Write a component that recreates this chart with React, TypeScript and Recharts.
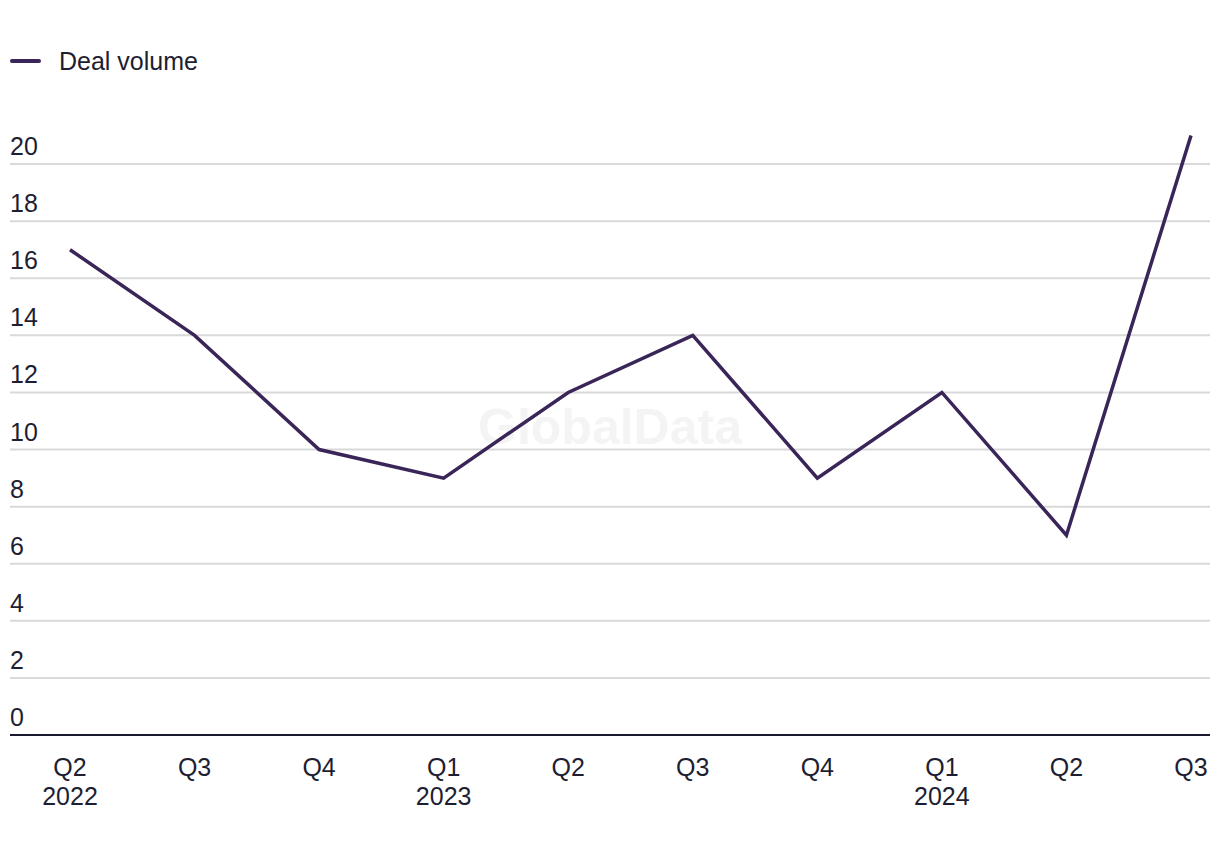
import React from "react";
import { LineChart, Line, XAxis, YAxis, CartesianGrid } from "recharts";

const quarters = ["Q2", "Q3", "Q4", "Q1", "Q2", "Q3", "Q4", "Q1", "Q2", "Q3"];
const years = ["2022", "", "", "2023", "", "", "", "2024", "", ""];
const dealVolume = [17, 14, 10, 9, 12, 14, 9, 12, 7, 21];
const yTicks = [0, 2, 4, 6, 8, 10, 12, 14, 16, 18, 20];

const data = quarters.map((q, i) => ({ key: `${q}-${i}`, quarter: q, year: years[i], value: dealVolume[i] }));

const FONT = "'Liberation Sans', Arial, sans-serif";
const TEXT = "#1e1e32";
const LINE = "#3a2558";
const FS = 25;

const XTick = (props: any) => {
  const { x, y, payload } = props;
  const idx = payload.index;
  return (
    <g>
      <text x={x} y={y + 33} textAnchor="middle" fontSize={FS} fill={TEXT} fontFamily={FONT}>
        {quarters[idx]}
      </text>
      {years[idx] ? (
        <text x={x} y={y + 62} textAnchor="middle" fontSize={FS} fill={TEXT} fontFamily={FONT}>
          {years[idx]}
        </text>
      ) : null}
    </g>
  );
};

const YTick = (props: any) => {
  const { y, payload } = props;
  return (
    <text x={10} y={y - 9} textAnchor="start" fontSize={FS} fill={TEXT} fontFamily={FONT}>
      {payload.value}
    </text>
  );
};

export default function App() {
  return (
    <div style={{ position: "relative", width: 1220, height: 856, background: "#fff" }}>
      <style>{"body{margin:0}"}</style>
      <div
        style={{
          position: "absolute",
          left: 0,
          width: 1220,
          top: 398,
          textAlign: "center",
          fontFamily: FONT,
          fontWeight: 700,
          fontSize: 50,
          color: "#f4f4f4",
        }}
      >
        GlobalData
      </div>
      <div
        style={{
          position: "absolute",
          left: 10,
          top: 46,
          display: "flex",
          alignItems: "center",
          fontFamily: FONT,
          fontSize: FS,
          color: TEXT,
          height: 30,
        }}
      >
        <div style={{ width: 31, height: 4, background: LINE, borderRadius: 2, marginRight: 18 }} />
        <span>Deal volume</span>
      </div>
      <div style={{ position: "absolute", left: 0, top: 0 }}>
        <LineChart width={1220} height={856} data={data} margin={{ top: 107, right: 10, left: 9, bottom: 0 }}>
          <CartesianGrid vertical={false} horizontalValues={yTicks} stroke="#d9d9d9" strokeWidth={2} />
          <XAxis
            dataKey="key"
            height={121}
            padding={{ left: 60, right: 19 }}
            axisLine={{ stroke: "#1a1a2e", strokeWidth: 2 }}
            tickLine={false}
            tick={<XTick />}
            interval={0}
          />
          <YAxis
            width={1}
            type="number"
            domain={[0, 22]}
            ticks={yTicks}
            interval={0}
            axisLine={false}
            tickLine={false}
            tick={<YTick />}
          />
          <Line
            type="linear"
            dataKey="value"
            stroke={LINE}
            strokeWidth={3.5}
            dot={false}
            activeDot={false}
            isAnimationActive={false}
          />
        </LineChart>
      </div>
    </div>
  );
}
